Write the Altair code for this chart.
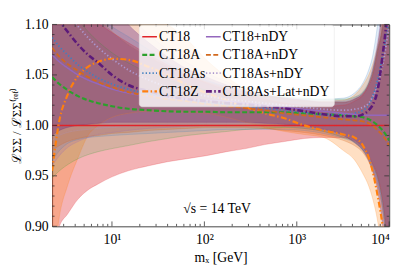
import altair as alt
import pandas as pd

# m_X grid (GeV)
M = [2.25, 2.7, 3.3, 4.3, 5.5, 7.1, 10, 15, 25, 40, 65, 105, 175, 280, 450, 735,
     1200, 1950, 3200, 4200, 5200, 6000, 6600, 7500, 8500, 9300, 10000]

# drawing order of bands / lines
SERIES = ["CT18", "CT18Z", "CT18A", "CT18As", "CT18+nDY", "CT18A+nDY", "CT18As+nDY", "CT18As+Lat+nDY"]
# legend: two columns, column-major as in the figure
LEGEND_SERIES = ["CT18", "CT18A", "CT18As", "CT18Z", "CT18+nDY", "CT18A+nDY", "CT18As+nDY", "CT18As+Lat+nDY"]
LEGEND_ROW = [0, 1, 2, 3, 0, 1, 2, 3]
LEGEND_COL = [0, 0, 0, 0, 1, 1, 1, 1]

COLORS = {"CT18": "#e0242a", "CT18A": "#2ca02c", "CT18As": "#3f7fc0", "CT18Z": "#ff7f0e",
          "CT18+nDY": "#9467bd", "CT18A+nDY": "#d2691e", "CT18As+nDY": "#ab97cf",
          "CT18As+Lat+nDY": "#5c1a7a"}
BAND_ALPHA = {"CT18": 0.35, "CT18Z": 0.25, "CT18A": 0.15, "CT18As": 0.15, "CT18+nDY": 0.20,
              "CT18A+nDY": 0.25, "CT18As+nDY": 0.12, "CT18As+Lat+nDY": 0.32}
DASHES = {"CT18": [1, 0], "CT18A": [5, 2.5], "CT18As": [1.3, 2.2], "CT18Z": [6, 2.5, 1.5, 2.5],
          "CT18+nDY": [1, 0], "CT18A+nDY": [5, 2.5], "CT18As+nDY": [1.3, 2.2],
          "CT18As+Lat+nDY": [6, 2.5, 1.5, 2.5]}
WIDTHS = {"CT18": 1.5, "CT18A": 2.2, "CT18As": 1.8, "CT18Z": 2.2, "CT18+nDY": 1.5,
          "CT18A+nDY": 1.8, "CT18As+nDY": 1.8, "CT18As+Lat+nDY": 2.6}

CT18_C = [1.0] * 27
CT18_L = [0.870, 0.900, 0.912, 0.927, 0.936, 0.942, 0.949, 0.955, 0.960, 0.964, 0.967, 0.970, 0.974, 0.977,
          0.981, 0.984, 0.987, 0.988, 0.988, 0.985, 0.978, 0.970, 0.962, 0.950, 0.925, 0.895, 0.860]
CT18_H = [1.160, 1.145, 1.130, 1.118, 1.108, 1.101, 1.092, 1.082, 1.070, 1.060, 1.050, 1.042, 1.035, 1.030,
          1.026, 1.022, 1.020, 1.019, 1.020, 1.024, 1.030, 1.040, 1.050, 1.075, 1.100, 1.140, 1.180]

CT18A_C = [1.048, 1.041, 1.035, 1.029, 1.025, 1.022, 1.019, 1.0165, 1.015, 1.014, 1.0135, 1.0135, 1.013, 1.013,
           1.013, 1.013, 1.012, 1.011, 1.010, 1.009, 1.008, 1.006, 1.004, 1.000, 0.995, 0.990, 0.985]
CT18A_L = [0.948, 0.955, 0.961, 0.967, 0.971, 0.974, 0.977, 0.980, 0.984, 0.987, 0.990, 0.992, 0.994, 0.996,
           0.997, 0.998, 0.997, 0.994, 0.988, 0.984, 0.976, 0.968, 0.960, 0.948, 0.922, 0.892, 0.860]
CT18A_H = [1.150, 1.135, 1.120, 1.105, 1.093, 1.083, 1.072, 1.062, 1.052, 1.045, 1.040, 1.035, 1.032, 1.030,
           1.029, 1.028, 1.027, 1.026, 1.026, 1.028, 1.033, 1.042, 1.052, 1.075, 1.100, 1.140, 1.180]

CT18As_C = [1.087, 1.078, 1.070, 1.060, 1.053, 1.047, 1.041, 1.036, 1.031, 1.028, 1.025, 1.023, 1.021, 1.019,
            1.017, 1.015, 1.013, 1.011, 1.011, 1.012, 1.015, 1.020, 1.028, 1.045, 1.070, 1.090, 1.110]
CT18As_L = [0.965, 0.975, 0.982, 0.986, 0.988, 0.989, 0.990, 0.991, 0.992, 0.993, 0.994, 0.995, 0.996, 0.996,
            0.996, 0.996, 0.995, 0.992, 0.987, 0.983, 0.975, 0.966, 0.957, 0.944, 0.918, 0.888, 0.855]
CT18As_H = [1.200, 1.180, 1.160, 1.140, 1.125, 1.110, 1.098, 1.088, 1.075, 1.062, 1.052, 1.045, 1.038, 1.033,
            1.030, 1.027, 1.026, 1.026, 1.027, 1.032, 1.042, 1.055, 1.068, 1.100, 1.140, 1.170, 1.200]

CT18Z_C = [0.955, 1.005, 1.030, 1.049, 1.058, 1.063, 1.066, 1.065, 1.058, 1.050, 1.040, 1.032, 1.025, 1.018,
           1.012, 1.007, 1.000, 0.995, 0.991, 0.988, 0.980, 0.968, 0.955, 0.930, 0.900, 0.870, 0.840]
CT18Z_L = [0.850, 0.910, 0.940, 0.968, 0.990, 1.000, 1.008, 1.012, 1.014, 1.014, 1.013, 1.012, 1.008, 1.003,
           0.998, 0.994, 0.991, 0.988, 0.975, 0.966, 0.952, 0.940, 0.928, 0.905, 0.870, 0.840, 0.800]
CT18Z_H = [1.130, 1.130, 1.130, 1.130, 1.130, 1.128, 1.128, 1.122, 1.110, 1.100, 1.085, 1.065, 1.048, 1.036,
           1.030, 1.027, 1.025, 1.024, 1.025, 1.030, 1.040, 1.050, 1.060, 1.080, 1.110, 1.140, 1.170]

CT18nDY_C = [1.070, 1.063, 1.057, 1.050, 1.045, 1.041, 1.036, 1.032, 1.029, 1.027, 1.026, 1.025, 1.024, 1.022,
             1.020, 1.018, 1.016, 1.014, 1.012, 1.011, 1.010, 1.010, 1.010, 1.010, 1.010, 1.010, 1.010]
CT18nDY_L = [0.960, 0.970, 0.978, 0.984, 0.988, 0.991, 0.993, 0.995, 0.997, 0.998, 0.999, 1.000, 1.000, 1.000,
             1.000, 0.999, 0.997, 0.994, 0.988, 0.984, 0.977, 0.968, 0.960, 0.945, 0.920, 0.890, 0.860]
CT18nDY_H = [1.180, 1.160, 1.145, 1.128, 1.115, 1.104, 1.092, 1.080, 1.068, 1.058, 1.050, 1.044, 1.038, 1.033,
             1.030, 1.027, 1.025, 1.024, 1.024, 1.027, 1.032, 1.040, 1.050, 1.075, 1.100, 1.140, 1.180]

CT18AnDY_C = [1.077, 1.068, 1.061, 1.054, 1.048, 1.043, 1.038, 1.033, 1.029, 1.026, 1.024, 1.021, 1.019, 1.017,
              1.015, 1.012, 1.010, 1.008, 1.006, 1.005, 1.004, 1.002, 1.000, 0.995, 0.990, 0.985, 0.980]
CT18AnDY_L = [0.975, 0.980, 0.984, 0.987, 0.989, 0.990, 0.992, 0.993, 0.995, 0.996, 0.997, 0.998, 0.998, 0.998,
              0.997, 0.995, 0.993, 0.990, 0.985, 0.980, 0.973, 0.964, 0.955, 0.940, 0.915, 0.885, 0.855]
CT18AnDY_H = [1.190, 1.170, 1.150, 1.132, 1.118, 1.106, 1.093, 1.080, 1.068, 1.058, 1.050, 1.043, 1.037, 1.032,
              1.029, 1.026, 1.024, 1.023, 1.023, 1.026, 1.031, 1.040, 1.050, 1.072, 1.100, 1.140, 1.180]

CT18AsnDY_C = [1.130, 1.120, 1.110, 1.098, 1.087, 1.077, 1.066, 1.055, 1.045, 1.038, 1.033, 1.029, 1.026, 1.024,
               1.022, 1.020, 1.018, 1.016, 1.015, 1.016, 1.018, 1.022, 1.028, 1.040, 1.060, 1.080, 1.100]
CT18AsnDY_L = [0.985, 0.990, 0.993, 0.995, 0.996, 0.997, 0.998, 0.999, 1.000, 1.001, 1.001, 1.002, 1.002, 1.002,
               1.002, 1.001, 0.999, 0.996, 0.990, 0.985, 0.977, 0.968, 0.960, 0.945, 0.920, 0.890, 0.860]
CT18AsnDY_H = [1.250, 1.230, 1.210, 1.190, 1.170, 1.150, 1.130, 1.110, 1.090, 1.075, 1.062, 1.052, 1.043, 1.036,
               1.031, 1.028, 1.026, 1.025, 1.025, 1.028, 1.034, 1.044, 1.056, 1.085, 1.120, 1.160, 1.200]

CT18AsLat_C = [1.117, 1.104, 1.093, 1.080, 1.070, 1.062, 1.050, 1.040, 1.034, 1.029, 1.026, 1.024, 1.022, 1.021,
               1.019, 1.017, 1.014, 1.011, 1.009, 1.009, 1.011, 1.015, 1.020, 1.035, 1.070, 1.100, 1.130]
CT18AsLat_L = [0.990, 0.995, 0.998, 1.000, 1.001, 1.002, 1.003, 1.003, 1.003, 1.003, 1.003, 1.003, 1.003, 1.003,
               1.002, 1.001, 0.999, 0.996, 0.990, 0.983, 0.975, 0.965, 0.955, 0.935, 0.900, 0.860, 0.820]
CT18AsLat_H = [1.250, 1.220, 1.200, 1.180, 1.160, 1.140, 1.120, 1.100, 1.082, 1.068, 1.056, 1.048, 1.040, 1.034,
               1.030, 1.027, 1.025, 1.023, 1.023, 1.026, 1.032, 1.042, 1.055, 1.080, 1.120, 1.160, 1.200]

X_MAJOR = [10, 100, 1000, 10000]
X_MINOR = [3, 4, 5, 6, 7, 8, 9, 20, 30, 40, 50, 60, 70, 80, 90, 200, 300, 400, 500, 600, 700, 800, 900,
           2000, 3000, 4000, 5000, 6000, 7000, 8000, 9000]
Y_MAJOR = [0.90, 0.95, 1.00, 1.05, 1.10]
Y_MINOR = [0.91, 0.92, 0.93, 0.94, 0.96, 0.97, 0.98, 0.99, 1.01, 1.02, 1.03, 1.04, 1.06, 1.07, 1.08, 1.09]
ANNOT_M = [59]
ANNOT_V = [0.917]
ANNOT_T = ["√s = 14 TeV"]

TABLE = {
    "CT18": (CT18_C, CT18_L, CT18_H),
    "CT18A": (CT18A_C, CT18A_L, CT18A_H),
    "CT18As": (CT18As_C, CT18As_L, CT18As_H),
    "CT18Z": (CT18Z_C, CT18Z_L, CT18Z_H),
    "CT18+nDY": (CT18nDY_C, CT18nDY_L, CT18nDY_H),
    "CT18A+nDY": (CT18AnDY_C, CT18AnDY_L, CT18AnDY_H),
    "CT18As+nDY": (CT18AsnDY_C, CT18AsnDY_L, CT18AsnDY_H),
    "CT18As+Lat+nDY": (CT18AsLat_C, CT18AsLat_L, CT18AsLat_H),
}

rows = []
for k, s in enumerate(SERIES):
    c, lo, hi = TABLE[s]
    for i, m in enumerate(M):
        rows.append({"m": m, "series": s, "order": k, "c": c[i], "lo": lo[i], "hi": hi[i],
                     "lw": WIDTHS[s], "fa": BAND_ALPHA[s]})
df = pd.DataFrame(rows)

edges = pd.concat([
    df.assign(edge=df["lo"], side="lo"),
    df.assign(edge=df["hi"], side="hi"),
])
edges["key"] = edges["series"] + "_" + edges["side"]

# ---- layout (pixels, relative to plot area) ----
W, H = 344, 206
FONT = "Liberation Serif"
LEG_BOX = (89, 288, 1, 84)          # x, x2, y, y2 of legend frame
LEG_COL_X = [92, 157]               # handle start per column
LEG_HANDLE = 15
LEG_ROW0, LEG_ROW_STEP = 12.5, 18.6

leg = pd.DataFrame({"series": LEGEND_SERIES, "row": LEGEND_ROW, "col": LEGEND_COL})
leg["lw"] = [WIDTHS[s] for s in LEGEND_SERIES]
leg["hx"] = [LEG_COL_X[c] for c in LEGEND_COL]
leg["hx2"] = leg["hx"] + LEG_HANDLE
leg["tx"] = leg["hx2"] + 2
leg["ty"] = LEG_ROW0 + leg["row"] * LEG_ROW_STEP

xs = alt.Scale(type="log", domain=[2.25, 10000], nice=False)
ys = alt.Scale(domain=[0.9, 1.1], nice=False, zero=False)
col_dom = LEGEND_SERIES
col_rng = [COLORS[s] for s in LEGEND_SERIES]
dash_rng = [DASHES[s] for s in LEGEND_SERIES]
SC = alt.Scale(domain=col_dom, range=col_rng)
SD = alt.Scale(domain=col_dom, range=dash_rng)

AX = alt.Axis(values=X_MAJOR, ticks=False, domain=False, grid=False,
              labelExpr="datum.value == 10 ? '10¹' : datum.value == 100 ? '10²' : datum.value == 1000 ? '10³' : '10⁴'",
              labelFont=FONT, labelFontSize=14, labelColor="#000", labelPadding=7,
              title="mₓ [GeV]", titleFont=FONT, titleFontSize=14, titleFontWeight="normal",
              titleColor="#000", titlePadding=4)
AY = alt.Axis(values=Y_MAJOR, format=".2f", ticks=False, domain=False, grid=False,
              labelFont=FONT, labelFontSize=14, labelColor="#000", labelPadding=4,
              title="ℒΣΣ / ℒΣΣ⁽ʳᵉᶠ⁾", titleFont=FONT, titleFontSize=13,
              titleFontWeight="normal", titleColor="#000", titlePadding=1)

bands = alt.Chart(df).mark_area(clip=True, interpolate="monotone").encode(
    x=alt.X("m:Q", scale=xs, axis=AX),
    y=alt.Y("lo:Q", scale=ys, axis=AY),
    y2="hi:Q",
    fill=alt.Fill("series:N", scale=SC, legend=None),
    fillOpacity=alt.FillOpacity("fa:Q", scale=None, legend=None),
    order=alt.Order("order:Q"),
    detail="series:N",
)

edge_lines = alt.Chart(edges).mark_line(clip=True, strokeWidth=0.7, strokeOpacity=0.3,
                                        interpolate="monotone").encode(
    x=alt.X("m:Q", scale=xs, axis=AX),
    y=alt.Y("edge:Q", scale=ys, axis=AY),
    stroke=alt.Stroke("series:N", scale=SC, legend=None),
    detail="key:N",
)

lines = alt.Chart(df).mark_line(clip=True, interpolate="monotone").encode(
    x=alt.X("m:Q", scale=xs, axis=AX),
    y=alt.Y("c:Q", scale=ys, axis=AY),
    stroke=alt.Stroke("series:N", scale=SC, legend=None),
    strokeDash=alt.StrokeDash("series:N", scale=SD, legend=None),
    strokeWidth=alt.StrokeWidth("lw:Q", scale=None, legend=None),
    detail="series:N",
    order=alt.Order("order:Q"),
)

tdf_xmaj = pd.DataFrame({"t": X_MAJOR})
tdf_xmin = pd.DataFrame({"t": X_MINOR})
tdf_ymaj = pd.DataFrame({"t": Y_MAJOR})
tdf_ymin = pd.DataFrame({"t": Y_MINOR})
TICK = "#333"

def xticks(data, ln):
    b = alt.Chart(data).mark_rule(color=TICK, strokeWidth=0.8).encode(
        x=alt.X("t:Q", scale=xs, axis=AX), y=alt.value(H), y2=alt.value(H - ln))
    t = alt.Chart(data).mark_rule(color=TICK, strokeWidth=0.8).encode(
        x=alt.X("t:Q", scale=xs, axis=AX), y=alt.value(0), y2=alt.value(ln))
    return b + t

def yticks(data, ln):
    l = alt.Chart(data).mark_rule(color=TICK, strokeWidth=0.8).encode(
        y=alt.Y("t:Q", scale=ys, axis=AY), x=alt.value(0), x2=alt.value(ln))
    r = alt.Chart(data).mark_rule(color=TICK, strokeWidth=0.8).encode(
        y=alt.Y("t:Q", scale=ys, axis=AY), x=alt.value(W), x2=alt.value(W - ln))
    return l + r

annot = alt.Chart(pd.DataFrame({"m": ANNOT_M, "v": ANNOT_V, "t": ANNOT_T})).mark_text(
    align="left", baseline="middle", font=FONT, fontSize=14, color="#000").encode(
    x=alt.X("m:Q", scale=xs, axis=AX), y=alt.Y("v:Q", scale=ys, axis=AY), text="t:N")

# ---- legend (drawn from the legend tables) ----
leg_box = alt.Chart(pd.DataFrame({"k": [0]})).mark_rect(
    fill="white", fillOpacity=0.8, stroke="#e6e6e6", strokeOpacity=0.7, strokeWidth=0.8,
    cornerRadius=3).encode(
    x=alt.value(LEG_BOX[0]), x2=alt.value(LEG_BOX[1]), y=alt.value(LEG_BOX[2]), y2=alt.value(LEG_BOX[3]))

leg_handles = alt.Chart(leg).mark_rule().encode(
    x=alt.X("hx:Q", scale=None), x2="hx2:Q", y=alt.Y("ty:Q", scale=None),
    stroke=alt.Stroke("series:N", scale=SC, legend=None),
    strokeDash=alt.StrokeDash("series:N", scale=SD, legend=None),
    strokeWidth=alt.StrokeWidth("lw:Q", scale=None, legend=None),
)

leg_text = alt.Chart(leg).mark_text(align="left", baseline="middle", font=FONT, fontSize=14,
                                    color="#000", dy=0.5).encode(
    x=alt.X("tx:Q", scale=None), y=alt.Y("ty:Q", scale=None), text="series:N")

chart = alt.layer(
    bands, edge_lines, lines,
    xticks(tdf_xmaj, 5), xticks(tdf_xmin, 2.5), yticks(tdf_ymaj, 5), yticks(tdf_ymin, 2.5),
    annot, leg_box, leg_handles, leg_text,
).properties(
    width=W, height=H,
    autosize=alt.AutoSizeParams(type="none"),
    padding={"left": 45, "top": 14, "right": 10, "bottom": 53},
).configure_view(stroke="#444", strokeWidth=1)

chart.save("out.html", embed_options={"renderer": "svg", "actions": False})
